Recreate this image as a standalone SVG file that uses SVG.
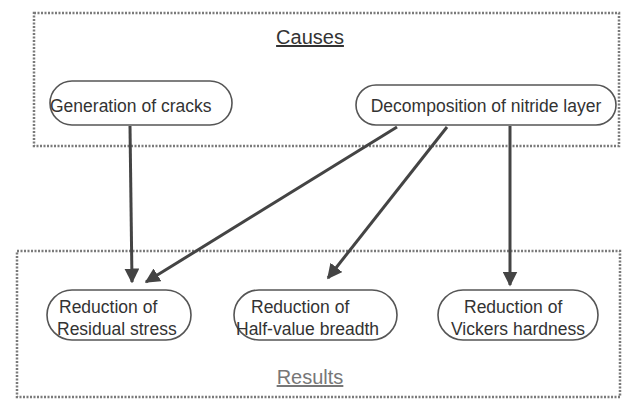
<svg xmlns="http://www.w3.org/2000/svg" width="631" height="401" viewBox="0 0 631 401">
<defs>
<marker id="ah" viewBox="0 0 10 10" refX="9" refY="5" markerWidth="5" markerHeight="5" markerUnits="strokeWidth" orient="auto">
<path d="M0,0 L10,5 L0,10 z" fill="#444"/>
</marker>
<style>
.frame{fill:none;stroke:#7a7a7a;stroke-width:2.5;stroke-dasharray:2 1.5}
.node{fill:#fff;stroke:#555;stroke-width:1.6}
.t{font-family:"Liberation Sans",Arial,sans-serif;font-size:17.5px;fill:#333}
.title{font-family:"Liberation Sans",Arial,sans-serif;font-size:20px;fill:#333;text-anchor:middle;text-decoration:underline}
.conn{stroke:#444;stroke-width:3;fill:none;marker-end:url(#ah)}
</style>
</defs>
<rect width="631" height="401" fill="#fff"/>
<g id="causes-frame">
<rect class="frame" x="34" y="13" width="585" height="133"/>
<text class="title" x="310" y="44">Causes</text>
</g>
<g id="results-frame">
<rect class="frame" x="17" y="251" width="603" height="146"/>
<text class="title" x="310" y="384" style="fill:#777">Results</text>
</g>
<g id="n-cracks">
<rect class="node" x="50" y="81" width="182" height="44" rx="22"/>
<text class="t" x="50" y="112">Generation of cracks</text>
</g>
<g id="n-decomp">
<rect class="node" x="356" y="85" width="260" height="40" rx="20"/>
<text class="t" x="486" y="112" text-anchor="middle">Decomposition of nitride layer</text>
</g>
<g id="n-residual">
<rect class="node" x="47" y="290" width="144" height="50" rx="25"/>
<text class="t" x="59" y="313">Reduction of</text>
<text class="t" x="57" y="335">Residual stress</text>
</g>
<g id="n-halfvalue">
<rect class="node" x="234" y="290" width="163" height="50" rx="25"/>
<text class="t" x="251" y="313">Reduction of</text>
<text class="t" x="236" y="335">Half-value breadth</text>
</g>
<g id="n-vickers">
<rect class="node" x="438" y="290" width="160" height="50" rx="25"/>
<text class="t" x="464" y="313">Reduction of</text>
<text class="t" x="451" y="335">Vickers hardness</text>
</g>
<g id="connectors">
<line class="conn" x1="130" y1="126" x2="132" y2="282"/>
<line class="conn" x1="397" y1="127" x2="146" y2="282"/>
<line class="conn" x1="447" y1="127" x2="328" y2="278"/>
<line class="conn" x1="510" y1="126" x2="510" y2="285"/>
</g>
</svg>
